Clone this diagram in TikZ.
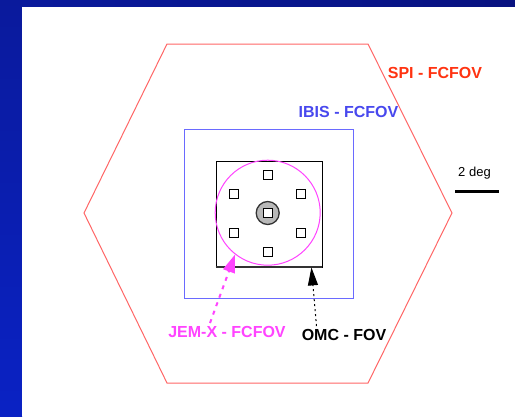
\documentclass[tikz,border=0pt]{standalone}
\usepackage{fontspec}
\setmainfont{Liberation Sans}
\usetikzlibrary{arrows.meta,calc}
\definecolor{spired}{HTML}{FF3311}
\definecolor{hexred}{HTML}{FF6666}
\definecolor{ibisblue}{HTML}{4848EE}
\definecolor{ibisline}{HTML}{6A6AFF}
\definecolor{jemmag}{HTML}{FF44FF}
\definecolor{bgtop}{HTML}{0A1A9C}
\definecolor{bgbot}{HTML}{0A22C4}
\definecolor{bgright}{HTML}{081280}
\begin{document}
\begin{tikzpicture}[x=1pt,y=-1pt,
  lbl/.style={inner sep=0pt, font=\fontsize{16}{19}\selectfont\bfseries},
  smallsq/.style={draw=black, fill=white, line width=0.9pt, minimum size=9pt, inner sep=0pt},
]
\useasboundingbox (0,0) rectangle (515,416);
% background frame
\shade[top color=bgtop, bottom color=bgbot] (0,0) rectangle (22,416);
\shade[left color=bgtop, right color=bgright] (22,0) rectangle (515,7);
\fill[white] (22,7) rectangle (515,416);
% SPI hexagon
\draw[hexred, line width=1pt] (167,44) -- (368,44) -- (452,213) -- (368,383) -- (167,383) -- (84,213) -- cycle;
% IBIS square
\node[draw=ibisline, line width=1pt, minimum size=169pt, inner sep=0pt] (ibis) at (268.5,213.5) {};
% OMC square
\node[draw=black, line width=0.8pt, minimum size=106pt, inner sep=0pt] (omc) at (269,214) {};
\draw[black!80, line width=2pt] (omc.south west) -- (omc.south east);
% JEM-X circle
\node[draw=jemmag, line width=1pt, circle, minimum size=105pt, inner sep=0pt] (jem) at (267.7,212.7) {};
% detectors
\node[circle, draw=black!80, fill=black!28, line width=1.3pt, minimum size=23pt, inner sep=0pt] (core) at (267.7,213) {};
\node[smallsq] (c0) at (267.7,213) {};
\node[smallsq] (s1) at (267.7,174.5) {};
\node[smallsq] (s2) at (234.4,193.7) {};
\node[smallsq] (s3) at (301,193.7) {};
\node[smallsq] (s4) at (234.4,232.7) {};
\node[smallsq] (s5) at (301,232.7) {};
\node[smallsq] (s6) at (267.7,252) {};
% labels
\node[lbl, text=spired] (spilbl) at (435,72.7) {SPI - FCFOV};
\node[lbl, text=ibisblue] (ibislbl) at (348.5,112) {IBIS - FCFOV};
\node[lbl, text=jemmag] (jemlbl) at (227,332) {JEM-X - FCFOV};
\node[lbl, text=black] (omclbl) at (344,335) {OMC - FOV};
% scale
\node[inner sep=0pt, font=\fontsize{13}{15}\selectfont] (scalelbl) at (474.5,173) {2 deg};
\coordinate (barL) at (455,191.3);
\coordinate (barR) at (499.3,191.3);
\draw[black, line width=3pt] (barL) -- (barR);
% arrows
\coordinate (jemtip) at (jem.232);
\coordinate (jemstart) at (210,323);
\draw[jemmag, line width=2pt, dash pattern=on 4pt off 5pt,
  -{Triangle[length=18pt,width=12pt]}] (jemstart) -- (jemtip);
\coordinate (omctip) at ($(omc.south east)+(-11,0)$);
\coordinate (omcstart) at (316.5,326);
\draw[black, line width=1pt, dash pattern=on 2pt off 3pt,
  -{Triangle[length=18pt,width=10pt]}] (omcstart) -- (omctip);
\end{tikzpicture}
\end{document}
